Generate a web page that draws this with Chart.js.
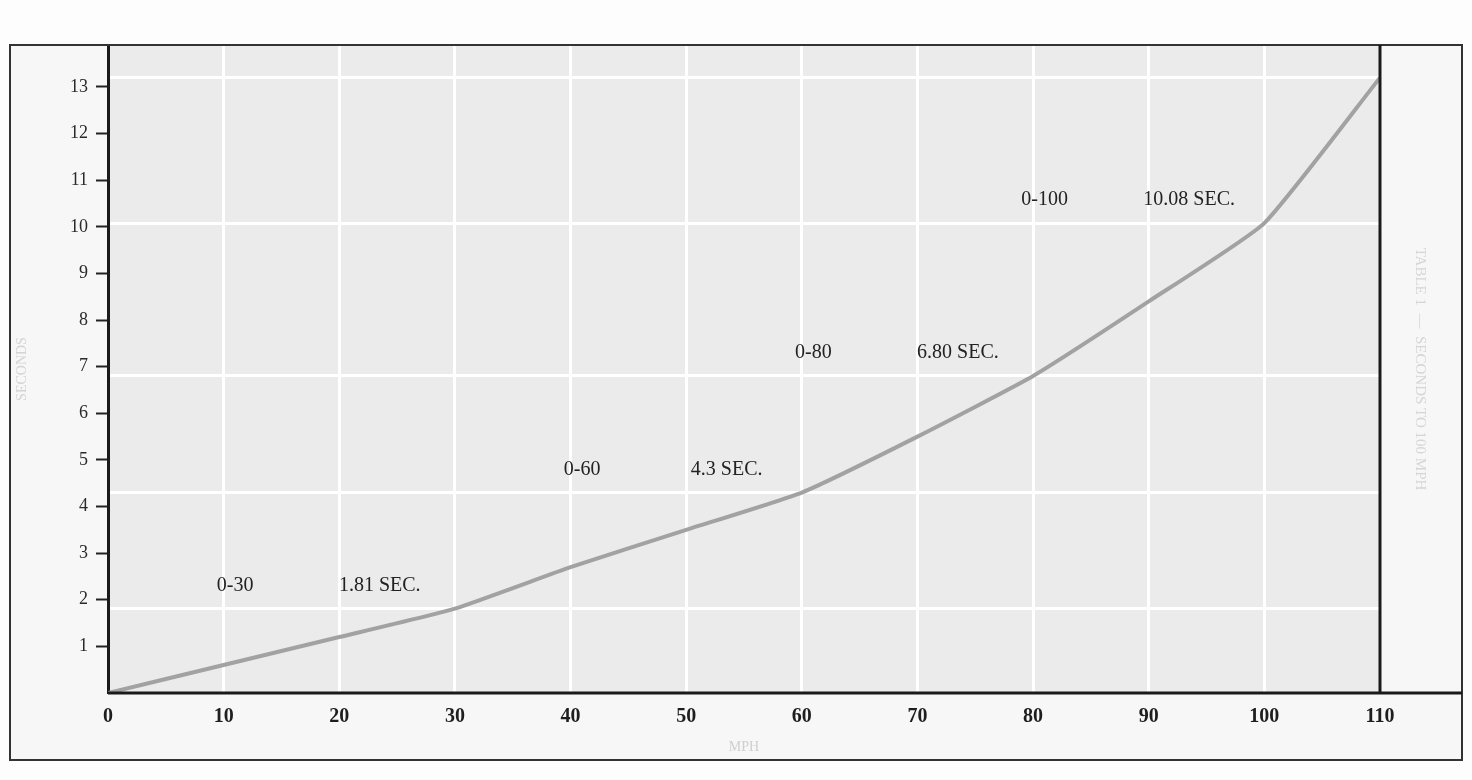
<!DOCTYPE html>
<html>
<head>
<meta charset="utf-8">
<script src="https://cdn.jsdelivr.net/npm/chart.js@4.4.1/dist/chart.umd.min.js"></script>
<style>
  html, body { margin: 0; padding: 0; background: #fdfdfd; }
  #wrap { width: 1472px; height: 780px; }
</style>
</head>
<body>
<div id="wrap"><canvas id="accChart"></canvas></div>
<script>
// speeds (mph) and elapsed time (seconds)
const speeds = [0, 10, 20, 30, 40, 50, 60, 70, 80, 90, 100, 110];
const seconds = [0, 0.6, 1.2, 1.81, 2.7, 3.5, 4.3, 5.5, 6.8, 8.4, 10.08, 13.2];

// marked runs and their printed times
const runEnds = [30, 60, 80, 100];
const runTimes = [1.81, 4.3, 6.8, 10.08];
const runLabels = ['0-30', '0-60', '0-80', '0-100'];
const timeLabels = ['1.81 SEC.', '4.3 SEC.', '6.80 SEC.', '10.08 SEC.'];

const serif = '"Liberation Serif", "DejaVu Serif", serif';

// page frame, plot background and side panel
const framePlugin = {
    id: 'frame',
    beforeDraw(chart) {
        const { ctx, chartArea: a } = chart;
        ctx.save();
        ctx.fillStyle = '#f7f7f7';
        ctx.fillRect(10, a.top, 1452, 760 - a.top);
        ctx.fillStyle = '#ebebeb';
        ctx.fillRect(a.left, a.top, a.right - a.left, a.bottom - a.top);
        ctx.restore();
    },
    afterDraw(chart) {
        const { ctx, chartArea: a } = chart;
        ctx.save();
        ctx.strokeStyle = '#333';
        ctx.lineWidth = 2;
        ctx.strokeRect(10, a.top, 1452, 760 - a.top);

        // right divider and extended base line
        ctx.lineWidth = 3;
        ctx.strokeStyle = '#1a1a1a';
        ctx.beginPath();
        ctx.moveTo(a.right, a.top);
        ctx.lineTo(a.right, a.bottom);
        ctx.moveTo(a.left, a.bottom);
        ctx.lineTo(1462, a.bottom);
        ctx.stroke();

        // faint side caption
        ctx.translate(1420, (a.top + a.bottom) / 2);
        ctx.rotate(Math.PI / 2);
        ctx.fillStyle = '#d6d6d6';
        ctx.font = '15px ' + serif;
        ctx.textAlign = 'center';
        ctx.textBaseline = 'middle';
        ctx.fillText('TABLE 1  \u2014  SECONDS TO 100 MPH', 0, 0);
        ctx.restore();
    }
};

// the "0-xx   n.nn SEC." notes above each run
const notesPlugin = {
    id: 'notes',
    afterDatasetsDraw(chart) {
        const { ctx, scales: { x, y } } = chart;
        ctx.save();
        ctx.fillStyle = '#222';
        ctx.font = '20px ' + serif;
        ctx.textAlign = 'center';
        ctx.textBaseline = 'alphabetic';
        runEnds.forEach((end, i) => {
            const py = y.getPixelForValue(runTimes[i]) - 18;
            ctx.fillText(runLabels[i], x.getPixelForValue(end - 19), py);
            ctx.fillText(timeLabels[i], x.getPixelForValue(end - 6.5), py);
        });
        ctx.restore();
    }
};

new Chart(document.getElementById('accChart'), {
    type: 'line',
    data: {
        datasets: [{
            data: speeds.map((s, i) => ({ x: s, y: seconds[i] })),
            borderColor: '#a2a2a2',
            borderWidth: 4,
            pointRadius: 0,
            tension: 0.15,
            yAxisID: 'y'
        }]
    },
    options: {
        responsive: true,
        maintainAspectRatio: false,
        animation: false,
        layout: { padding: { left: 10, top: 45, right: 92, bottom: 20 } },
        plugins: { legend: { display: false }, tooltip: { enabled: false } },
        scales: {
            x: {
                type: 'linear',
                min: 0,
                max: 110,
                ticks: {
                    stepSize: 10,
                    color: '#1e1e1e',
                    padding: 12,
                    font: { family: serif, size: 20, weight: 'bold' }
                },
                grid: { color: '#ffffff', lineWidth: 3, drawTicks: false },
                border: { display: false },
                title: {
                    display: true,
                    text: 'MPH',
                    color: '#cfcfcf',
                    font: { family: serif, size: 14 }
                },
                afterFit(scale) { scale.height = 67; }
            },
            y: {
                min: 0,
                max: 13.9,
                afterBuildTicks(scale) {
                    scale.ticks = scale.ticks.filter(t => Number.isInteger(t.value));
                },
                ticks: {
                    stepSize: 1,
                    color: '#2a2a2a',
                    padding: 8,
                    font: { family: serif, size: 18 },
                    callback: v => (v === 0 ? '' : v)
                },
                grid: {
                    drawOnChartArea: false,
                    drawTicks: true,
                    tickLength: 12,
                    tickWidth: 2,
                    tickColor: c => (c.tick && c.tick.value === 0 ? 'rgba(0,0,0,0)' : '#222')
                },
                border: { display: true, color: '#1a1a1a', width: 3 },
                title: {
                    display: true,
                    text: 'SECONDS',
                    color: '#d4d4d4',
                    font: { family: serif, size: 14 }
                },
                afterFit(scale) { scale.width = 98; }
            },
            yGrid: {
                position: 'right',
                min: 0,
                max: 13.9,
                afterBuildTicks(scale) {
                    scale.ticks = runTimes.concat([13.2]).map(v => ({ value: v }));
                },
                ticks: { display: false },
                grid: { color: '#ffffff', lineWidth: 3, drawTicks: false },
                border: { display: false },
                afterFit(scale) { scale.width = 0; }
            }
        }
    },
    plugins: [framePlugin, notesPlugin]
});
</script>
</body>
</html>
